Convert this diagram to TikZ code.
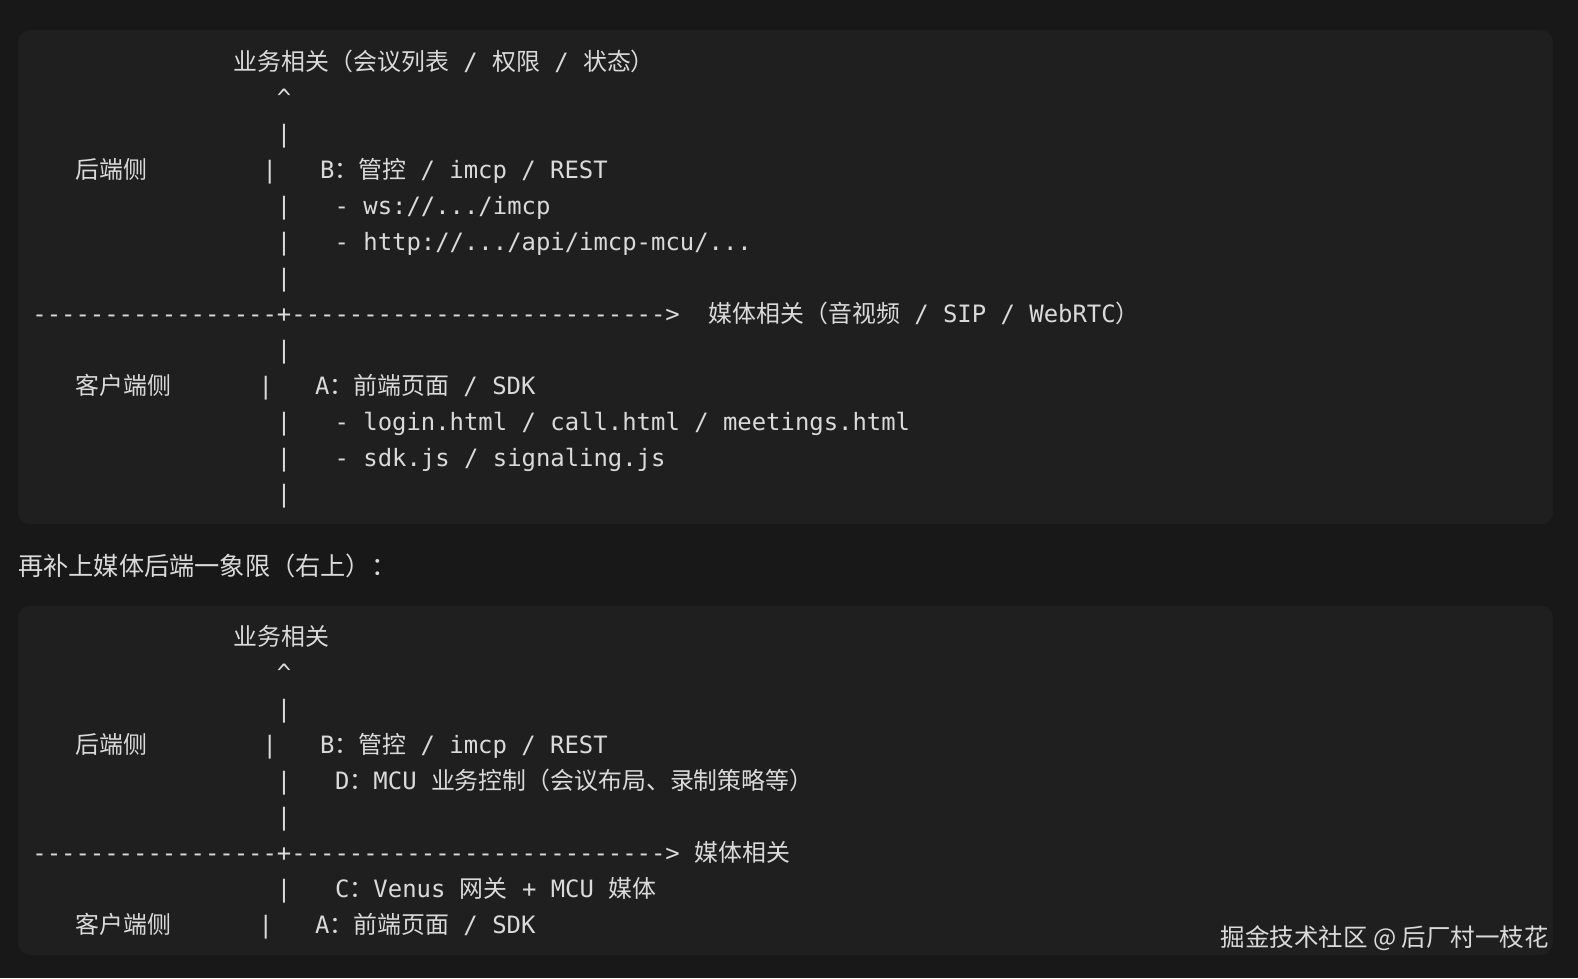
\documentclass[tikz,border=0pt]{standalone}
\usepackage{fontspec}
\setmonofont{DejaVu Sans Mono}
\newfontfamily\cjk{Noto Sans CJK SC}
\definecolor{pagebg}{HTML}{181818}
\definecolor{boxbg}{HTML}{1F1F1F}
\definecolor{ink}{HTML}{DADADA}
\tikzset{
  codebox/.style={fill=boxbg, rounded corners=12pt},
  code/.style={font=\ttfamily\fontsize{23.9}{28}\selectfont, text=ink, inner sep=0pt, anchor=base west},
  bar/.style={code, anchor=base},
  prose/.style={font=\cjk\fontsize{25.2}{30}\selectfont, text=ink, inner sep=0pt, anchor=base west},
}

\begin{document}
\begin{tikzpicture}[x=1pt, y=-1pt]
  % page and code blocks
  \fill[pagebg] (0,0) rectangle (1578,978);
  \useasboundingbox (0,0) rectangle (1578,978);
  \fill[codebox] (18.1,30.2) rectangle (1553,524.2);
  \fill[codebox] (18.1,605.7) rectangle (1553,955);

  % block 1 (three quadrants)
  \node[code] (biz1) at (233.7,70) {{\cjk 业务相关（会议列表} / {\cjk 权限} / {\cjk 状态）}};
  \node[bar] (up1) at (284,106.05) {\textasciicircum};
  \foreach \y [count=\i] in {142.1, 214.2, 250.25, 286.3, 358.4, 430.5, 466.55, 502.6}{
    \node[bar] (pipeA\i) at (284,\y) {|};
  }
  \node[code] (srv1) at (75.4,178.15) {\cjk 后端侧};
  \node[bar] (srvbar1) at (269.7,178.15) {|};
  \node[code] (b1) at (320,178.15) {B{\cjk ：管控} / imcp / REST};
  \node[code] (ws1) at (334.4,214.2) {- ws://.../imcp};
  \node[code] (http1) at (334.4,250.25) {- http://.../api/imcp-mcu/...};
  \node[code] (axis1) at (32.2,322.35) {-----------------+-------------------------->};
  \node[code] (media1) at (708.5,322.35) {{\cjk 媒体相关（音视频} / SIP / WebRTC{\cjk ）}};
  \node[code] (cli1) at (75.4,394.45) {\cjk 客户端侧};
  \node[bar] (clibar1) at (265.7,394.45) {|};
  \node[code] (a1) at (315,394.45) {A{\cjk ：前端页面} / SDK};
  \node[code] (html1) at (334.4,430.5) {- login.html / call.html / meetings.html};
  \node[code] (js1) at (334.4,466.55) {- sdk.js / signaling.js};

  % text between blocks
  \node[prose] (note) at (18.1,575) {再补上媒体后端一象限（右上）：};

  % block 2 (media backend added)
  \node[code] (biz2) at (233.7,645.6) {\cjk 业务相关};
  \node[bar] (up2) at (284,681.6) {\textasciicircum};
  \foreach \y [count=\i] in {717.5, 789.5, 825.5, 897.4}{
    \node[bar] (pipeB\i) at (284,\y) {|};
  }
  \node[code] (srv2) at (75.4,753.5) {\cjk 后端侧};
  \node[bar] (srvbar2) at (269.7,753.5) {|};
  \node[code] (b2) at (320,753.5) {B{\cjk ：管控} / imcp / REST};
  \node[code] (d2) at (335,789.5) {D{\cjk ：}MCU {\cjk 业务控制（会议布局、录制策略等）}};
  \node[code] (axis2) at (32.2,861.4) {-----------------+-------------------------->};
  \node[code] (media2) at (694.1,861.4) {\cjk 媒体相关};
  \node[code] (c2) at (335,897.4) {C{\cjk ：}Venus {\cjk 网关} + MCU {\cjk 媒体}};
  \node[code] (cli2) at (75.4,933.4) {\cjk 客户端侧};
  \node[bar] (clibar2) at (265.7,933.4) {|};
  \node[code] (a2) at (315,933.4) {A{\cjk ：前端页面} / SDK};

  % watermark
  \node[prose, anchor=base east, font=\cjk\fontsize{24.5}{30}\selectfont] (mark) at (1549,946) {掘金技术社区 @ 后厂村一枝花};
\end{tikzpicture}
\end{document}
